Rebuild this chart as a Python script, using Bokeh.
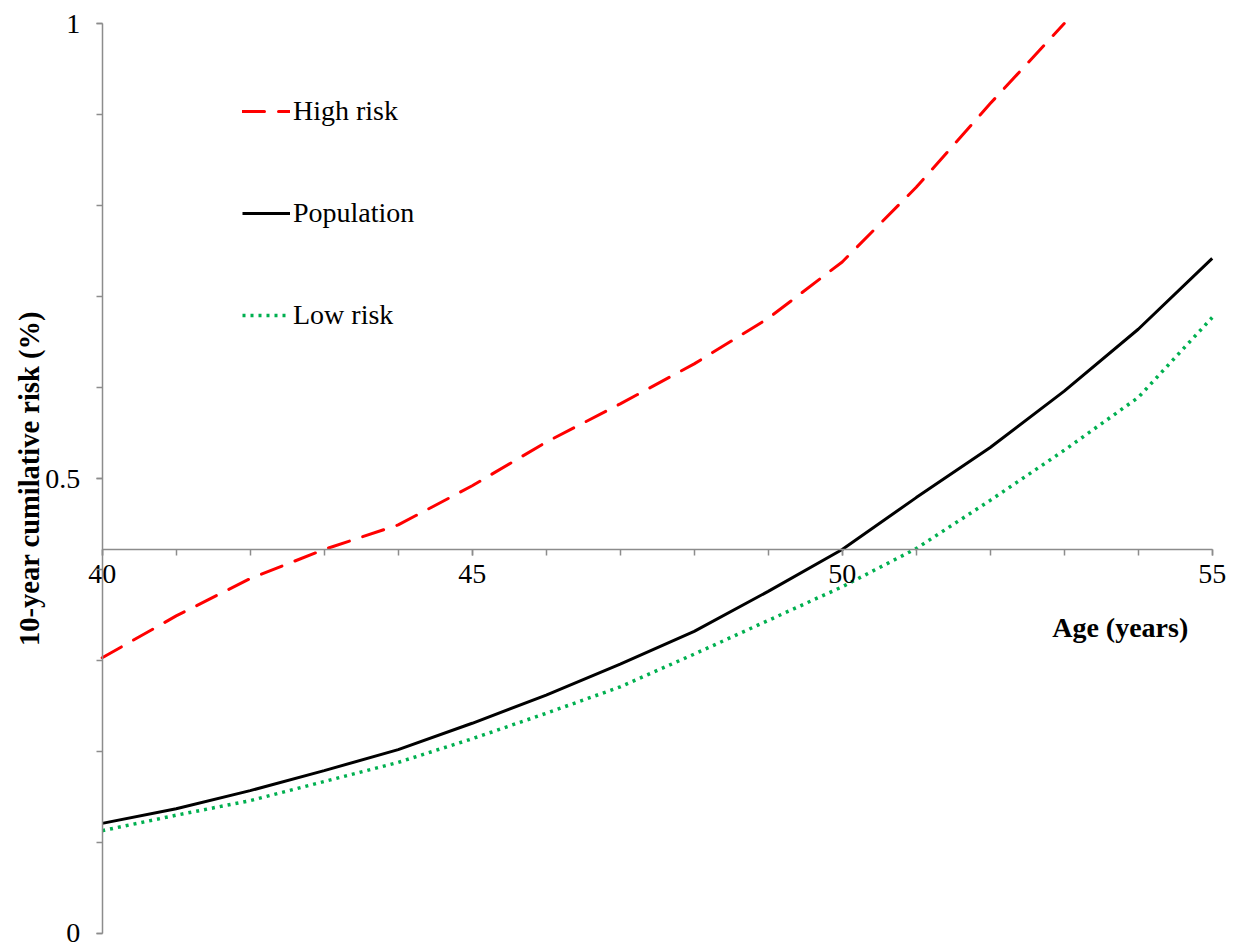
import math
from bokeh.plotting import figure
from bokeh.models import Range1d, FixedTicker, Legend, LegendItem, Label
from bokeh.embed import file_html
from bokeh.resources import INLINE

# ---- data ----
ages = [40, 41, 42, 43, 44, 45, 46, 47, 48, 49, 50, 51, 52, 53, 54, 55]
high_risk = [0.303, 0.349, 0.390, 0.422, 0.449, 0.492, 0.540, 0.582, 0.626,
             0.676, 0.738, 0.820, 0.912, 1.000]
population = [0.121, 0.137, 0.157, 0.179, 0.202, 0.231, 0.262, 0.296, 0.332,
              0.376, 0.422, 0.479, 0.534, 0.596, 0.664, 0.742]
low_risk = [0.113, 0.130, 0.146, 0.167, 0.188, 0.214, 0.242, 0.271, 0.307,
            0.344, 0.381, 0.423, 0.476, 0.531, 0.589, 0.677]

x_major_ticks = [40, 45, 50, 55]
y_major_ticks = [0, 0.5, 1]
y_minor_ticks = [0, 0.1, 0.2, 0.3, 0.4, 0.5, 0.6, 0.7, 0.8, 0.9, 1.0]
y_tick_labels = {0: "0", 0.5: "0.5", 1: "1"}
x_axis_crossing = 0.422
x_bounds = (40, 55)
y_bounds = (0, 1)

series_names = ["High risk", "Population", "Low risk"]
x_title = "Age (years)"
y_title = "10-year cumilative risk (%)"

SERIF = "Liberation Serif"
AXIS_COLOR = "#8c8c8c"

W, H = 1232, 943
# the frame fills the canvas; ranges padded so that axes sit inside it
p = figure(width=W, height=H,
           x_range=Range1d(38.626, 55.274), y_range=Range1d(-0.011, 1.0253),
           output_backend="svg", toolbar_location=None,
           min_border=0, min_border_left=0, min_border_right=0,
           min_border_top=0, min_border_bottom=0)

p.outline_line_color = None
p.xgrid.visible = False
p.ygrid.visible = False
p.background_fill_color = "white"
p.border_fill_color = "white"

# x axis (crossing inside the plot)
xa = p.xaxis[0]
xa.ticker = FixedTicker(ticks=x_major_ticks, minor_ticks=ages)
xa.fixed_location = x_axis_crossing
xa.bounds = x_bounds
xa.axis_line_color = AXIS_COLOR
xa.axis_line_width = 1.5
xa.major_tick_line_color = AXIS_COLOR
xa.minor_tick_line_color = AXIS_COLOR
xa.major_tick_line_width = 1.5
xa.minor_tick_line_width = 1.5
xa.major_tick_in = 0
xa.major_tick_out = 6
xa.minor_tick_in = 0
xa.minor_tick_out = 6
xa.major_label_text_font = SERIF
xa.major_label_text_font_size = "28px"
xa.major_label_text_color = "black"
xa.major_label_standoff = 10

# y axis
ya = p.yaxis[0]
ya.ticker = FixedTicker(ticks=y_major_ticks, minor_ticks=y_minor_ticks)
ya.fixed_location = x_bounds[0]
ya.bounds = y_bounds
ya.major_label_overrides = y_tick_labels
ya.axis_line_color = AXIS_COLOR
ya.axis_line_width = 1.5
ya.major_tick_line_color = AXIS_COLOR
ya.minor_tick_line_color = AXIS_COLOR
ya.major_tick_line_width = 1.5
ya.minor_tick_line_width = 1.5
ya.major_tick_in = 0
ya.major_tick_out = 6
ya.minor_tick_in = 0
ya.minor_tick_out = 6
ya.major_label_text_font = SERIF
ya.major_label_text_font_size = "28px"
ya.major_label_text_color = "black"
ya.major_label_standoff = 16

# series
r_high = p.line(ages[:len(high_risk)], high_risk, line_color="#FF0000",
                line_width=3, line_dash="22 14", line_cap="round")
r_pop = p.line(ages, population, line_color="black", line_width=3)
r_low = p.line(ages, low_risk, line_color="#00B050", line_width=3.5,
               line_dash="3 5")

legend = Legend(items=[LegendItem(label=series_names[0], renderers=[r_high]),
                       LegendItem(label=series_names[1], renderers=[r_pop]),
                       LegendItem(label=series_names[2], renderers=[r_low])],
                location=(242, 612), glyph_width=48, glyph_height=30,
                label_height=30, label_standoff=3, spacing=70,
                padding=0, margin=0, border_line_color=None,
                background_fill_alpha=0,
                label_text_font=SERIF, label_text_font_size="28px",
                label_text_color="black")
p.add_layout(legend)

# axis titles
p.add_layout(Label(x=53.757, y=0.336, text=x_title, text_font=SERIF,
                   text_font_size="28px", text_font_style="bold",
                   text_color="black", text_align="center",
                   text_baseline="middle"))
p.add_layout(Label(x=39.018, y=0.5, text=y_title, text_font=SERIF,
                   text_font_size="28.5px", text_font_style="bold",
                   text_color="black", text_align="center",
                   text_baseline="middle", angle=math.pi / 2))

open("out.html", "w").write(file_html(p, INLINE))
